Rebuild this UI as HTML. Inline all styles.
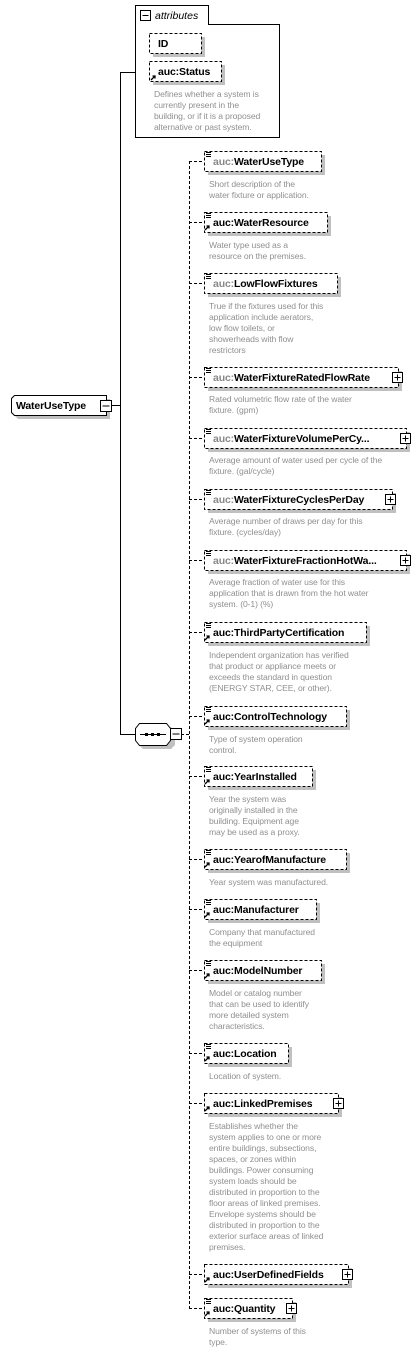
<!DOCTYPE html>
<html><head><meta charset="utf-8"><style>
html,body{margin:0;padding:0;background:#fff;width:420px;height:1351px;overflow:hidden}
svg{display:block}
.l{font-family:"Liberation Sans",sans-serif;font-weight:bold;font-size:10.5px;fill:#000;letter-spacing:-0.15px}
.g{fill:#888}
.d{font-family:"Liberation Sans",sans-serif;font-size:8.6px;fill:#909090;letter-spacing:-0.1px}
.b{fill:#fff;stroke:#000;stroke-width:1;stroke-dasharray:3,2}
.s{fill:#c0c0c0}
</style></head><body>
<svg width="420" height="1351" xmlns="http://www.w3.org/2000/svg">
<defs>
<g id="li"><path d="M0 0.5h5M0 2.5h5M0 4.5h5" stroke="#000" stroke-width="1"/></g>
<g id="ar"><path d="M0 5L4 1M1.5 1H4V3.5" stroke="#000" stroke-width="1.3" fill="none"/></g>
<g id="pl"><rect x="0.5" y="0.5" width="10" height="10" fill="#fff" stroke="#000"/><path d="M2.5 5.5h6M5.5 2.5v6" stroke="#000"/></g>
</defs>

<!-- attributes -->
<path d="M135.5 5.5H208.5V24.5H279.5V137.5H135.5Z" fill="#fff" stroke="#000"/>
<rect x="140.5" y="10.5" width="10" height="10" fill="#fff" stroke="#000"/><path d="M142.5 15.5h6" stroke="#000"/>
<text x="155" y="19" font-family="Liberation Sans,sans-serif" font-style="italic" font-size="10.5" fill="#000">attributes</text>
<rect x="153" y="37" width="52" height="20" class="s"/>
<rect x="149.5" y="33.5" width="52" height="20" class="b"/>
<text x="158" y="47" class="l">ID</text>
<rect x="153" y="65" width="72" height="20" class="s"/>
<rect x="149.5" y="61.5" width="72" height="20" class="b"/>
<use href="#ar" x="151" y="75"/>
<text x="158" y="75" class="l">auc:Status</text>
<text class="d"><tspan x="154" y="97">Defines whether a system is</tspan><tspan x="154" y="108">currently present in the</tspan><tspan x="154" y="119">building, or if it is a proposed</tspan><tspan x="154" y="130">alternative or past system.</tspan></text>

<!-- main lines -->
<path d="M120.5 72V734M120 72.5H135M112 405.5H120M120 734.5H135" stroke="#000" fill="none"/>
<path d="M189.5 161V1308M181 734.5H189" stroke="#000" stroke-dasharray="3,2" fill="none"/>

<!-- root -->
<path d="M18 399H110V419H18L15 416V402Z" class="s"/>
<path d="M14.5 395.5H106.5V415.5H14.5L11.5 412.5V398.5Z" fill="#fff" stroke="#000"/>
<text x="16" y="409" class="l">WaterUseType</text>
<rect x="100.5" y="400.5" width="11" height="11" fill="#fff" stroke="#000"/><path d="M102.5 406h7" stroke="#000"/>

<!-- sequence -->
<path d="M143 727H171L175 732V745L171 749H143L139 745V732Z" class="s"/>
<path d="M139.5 723.5H166.5L170.5 728.5V740.5L166.5 745.5H139.5L135.5 740.5V728.5Z" fill="#fff" stroke="#000"/>
<path d="M140 734.5H166" stroke="#000"/><rect x="145" y="733" width="3" height="3"/><rect x="151" y="733" width="3" height="3"/><rect x="157" y="733" width="3" height="3"/>
<rect x="170.5" y="728.5" width="11" height="11" fill="#fff" stroke="#000"/><path d="M172.5 734h7" stroke="#000"/>

<!-- connectors -->
<path d="M189 161.5H204M189 222.5H204M189 283.5H204M189 377.5H204M189 438.5H204M189 499.5H204M189 560.5H204M189 632.5H204M189 716.5H204M189 776.5H204M189 859.5H204M189 909.5H204M189 970.5H204M189 1053.5H204M189 1103.5H204M189 1274.5H204M189 1308.5H204" stroke="#000" stroke-dasharray="3,2"/>

<!-- WaterUseType 161 -->
<rect x="208" y="155" width="117" height="20" class="s"/><rect x="204.5" y="151.5" width="117" height="20" class="b"/>
<use href="#li" x="206" y="152"/>
<text x="213" y="165" class="l"><tspan class="g">auc:</tspan>WaterUseType</text>
<text class="d"><tspan x="209" y="187">Short description of the</tspan><tspan x="209" y="198">water fixture or application.</tspan></text>

<!-- WaterResource 222 -->
<rect x="208" y="216" width="123" height="20" class="s"/><rect x="204.5" y="212.5" width="123" height="20" class="b"/>
<use href="#li" x="206" y="213"/><use href="#ar" x="205" y="225"/>
<text x="213" y="226" class="l">auc:WaterResource</text>
<text class="d"><tspan x="209" y="248">Water type used as a</tspan><tspan x="209" y="259">resource on the premises.</tspan></text>

<!-- LowFlowFixtures 283 -->
<rect x="208" y="277" width="133" height="20" class="s"/><rect x="204.5" y="273.5" width="133" height="20" class="b"/>
<use href="#li" x="206" y="274"/>
<text x="213" y="287" class="l"><tspan class="g">auc:</tspan>LowFlowFixtures</text>
<text class="d"><tspan x="209" y="309">True if the fixtures used for this</tspan><tspan x="209" y="320">application include aerators,</tspan><tspan x="209" y="331">low flow toilets, or</tspan><tspan x="209" y="342">showerheads with flow</tspan><tspan x="209" y="353">restrictors</tspan></text>

<!-- Rated 377 -->
<rect x="208" y="371" width="194" height="20" class="s"/><rect x="204.5" y="367.5" width="194" height="20" class="b"/>
<use href="#li" x="206" y="368"/>
<text x="213" y="381" class="l"><tspan class="g">auc:</tspan>WaterFixtureRatedFlowRate</text>
<use href="#pl" x="392" y="372"/>
<text class="d"><tspan x="209" y="402">Rated volumetric flow rate of the water</tspan><tspan x="209" y="413">fixture. (gpm)</tspan></text>

<!-- Volume 438 -->
<rect x="208" y="432" width="202" height="20" class="s"/><rect x="204.5" y="428.5" width="202" height="20" class="b"/>
<use href="#li" x="206" y="429"/>
<text x="213" y="442" class="l"><tspan class="g">auc:</tspan>WaterFixtureVolumePerCy...</text>
<use href="#pl" x="400" y="433"/>
<text class="d"><tspan x="209" y="463">Average amount of water used per cycle of the</tspan><tspan x="209" y="474">fixture. (gal/cycle)</tspan></text>

<!-- Cycles 499 -->
<rect x="208" y="493" width="188" height="20" class="s"/><rect x="204.5" y="489.5" width="188" height="20" class="b"/>
<use href="#li" x="206" y="490"/>
<text x="213" y="503" class="l"><tspan class="g">auc:</tspan>WaterFixtureCyclesPerDay</text>
<use href="#pl" x="385" y="494"/>
<text class="d"><tspan x="209" y="524">Average number of draws per day for this</tspan><tspan x="209" y="535">fixture. (cycles/day)</tspan></text>

<!-- Fraction 560 -->
<rect x="208" y="554" width="202" height="20" class="s"/><rect x="204.5" y="550.5" width="202" height="20" class="b"/>
<use href="#li" x="206" y="551"/>
<text x="213" y="564" class="l"><tspan class="g">auc:</tspan>WaterFixtureFractionHotWa...</text>
<use href="#pl" x="400" y="555"/>
<text class="d"><tspan x="209" y="585">Average fraction of water use for this</tspan><tspan x="209" y="596">application that is drawn from the hot water</tspan><tspan x="209" y="607">system. (0-1) (%)</tspan></text>

<!-- ThirdParty 632 -->
<rect x="208" y="626" width="162" height="20" class="s"/><rect x="204.5" y="622.5" width="162" height="20" class="b"/>
<use href="#li" x="206" y="623"/><use href="#ar" x="205" y="635"/>
<text x="213" y="636" class="l">auc:ThirdPartyCertification</text>
<text class="d"><tspan x="209" y="658">Independent organization has verified</tspan><tspan x="209" y="669">that product or appliance meets or</tspan><tspan x="209" y="680">exceeds the standard in question</tspan><tspan x="209" y="691">(ENERGY STAR, CEE, or other).</tspan></text>

<!-- Control 716 -->
<rect x="208" y="710" width="142" height="20" class="s"/><rect x="204.5" y="706.5" width="142" height="20" class="b"/>
<use href="#li" x="206" y="707"/><use href="#ar" x="205" y="719"/>
<text x="213" y="720" class="l">auc:ControlTechnology</text>
<text class="d"><tspan x="209" y="742">Type of system operation</tspan><tspan x="209" y="753">control.</tspan></text>

<!-- YearInstalled 776 -->
<rect x="208" y="770" width="108" height="20" class="s"/><rect x="204.5" y="766.5" width="108" height="20" class="b"/>
<use href="#li" x="206" y="767"/><use href="#ar" x="205" y="779"/>
<text x="213" y="780" class="l">auc:YearInstalled</text>
<text class="d"><tspan x="209" y="802">Year the system was</tspan><tspan x="209" y="813">originally installed in the</tspan><tspan x="209" y="824">building. Equipment age</tspan><tspan x="209" y="835">may be used as a proxy.</tspan></text>

<!-- YearofManufacture 859 -->
<rect x="208" y="853" width="142" height="20" class="s"/><rect x="204.5" y="849.5" width="142" height="20" class="b"/>
<use href="#li" x="206" y="850"/><use href="#ar" x="205" y="862"/>
<text x="213" y="863" class="l">auc:YearofManufacture</text>
<text class="d"><tspan x="209" y="885">Year system was manufactured.</tspan></text>

<!-- Manufacturer 909 -->
<rect x="208" y="903" width="112" height="20" class="s"/><rect x="204.5" y="899.5" width="112" height="20" class="b"/>
<use href="#li" x="206" y="900"/><use href="#ar" x="205" y="912"/>
<text x="213" y="913" class="l">auc:Manufacturer</text>
<text class="d"><tspan x="209" y="935">Company that manufactured</tspan><tspan x="209" y="946">the equipment</tspan></text>

<!-- ModelNumber 970 -->
<rect x="208" y="964" width="117" height="20" class="s"/><rect x="204.5" y="960.5" width="117" height="20" class="b"/>
<use href="#li" x="206" y="961"/><use href="#ar" x="205" y="973"/>
<text x="213" y="974" class="l">auc:ModelNumber</text>
<text class="d"><tspan x="209" y="996">Model or catalog number</tspan><tspan x="209" y="1007">that can be used to identify</tspan><tspan x="209" y="1018">more detailed system</tspan><tspan x="209" y="1029">characteristics.</tspan></text>

<!-- Location 1053 -->
<rect x="208" y="1047" width="84" height="20" class="s"/><rect x="204.5" y="1043.5" width="84" height="20" class="b"/>
<use href="#li" x="206" y="1044"/><use href="#ar" x="205" y="1056"/>
<text x="213" y="1057" class="l">auc:Location</text>
<text class="d"><tspan x="209" y="1079">Location of system.</tspan></text>

<!-- LinkedPremises 1103 -->
<rect x="208" y="1097" width="134" height="20" class="s"/><rect x="204.5" y="1093.5" width="134" height="20" class="b"/>
<use href="#ar" x="205" y="1106"/>
<text x="213" y="1107" class="l">auc:LinkedPremises</text>
<use href="#pl" x="333" y="1098"/>
<text class="d"><tspan x="209" y="1129">Establishes whether the</tspan><tspan x="209" y="1140">system applies to one or more</tspan><tspan x="209" y="1151">entire buildings, subsections,</tspan><tspan x="209" y="1162">spaces, or zones within</tspan><tspan x="209" y="1173">buildings. Power consuming</tspan><tspan x="209" y="1184">system loads should be</tspan><tspan x="209" y="1195">distributed in proportion to the</tspan><tspan x="209" y="1206">floor areas of linked premises.</tspan><tspan x="209" y="1217">Envelope systems should be</tspan><tspan x="209" y="1228">distributed in proportion to the</tspan><tspan x="209" y="1239">exterior surface areas of linked</tspan><tspan x="209" y="1250">premises.</tspan></text>

<!-- UserDefinedFields 1274 -->
<rect x="208" y="1268" width="144" height="20" class="s"/><rect x="204.5" y="1264.5" width="144" height="20" class="b"/>
<use href="#ar" x="205" y="1277"/>
<text x="213" y="1278" class="l">auc:UserDefinedFields</text>
<use href="#pl" x="342" y="1269"/>

<!-- Quantity 1308 -->
<rect x="208" y="1302" width="88" height="20" class="s"/><rect x="204.5" y="1298.5" width="88" height="20" class="b"/>
<use href="#li" x="206" y="1299"/><use href="#ar" x="205" y="1311"/>
<text x="213" y="1312" class="l">auc:Quantity</text>
<use href="#pl" x="286" y="1303"/>
<text class="d"><tspan x="209" y="1334">Number of systems of this</tspan><tspan x="209" y="1345">type.</tspan></text>
</svg>
</body></html>
